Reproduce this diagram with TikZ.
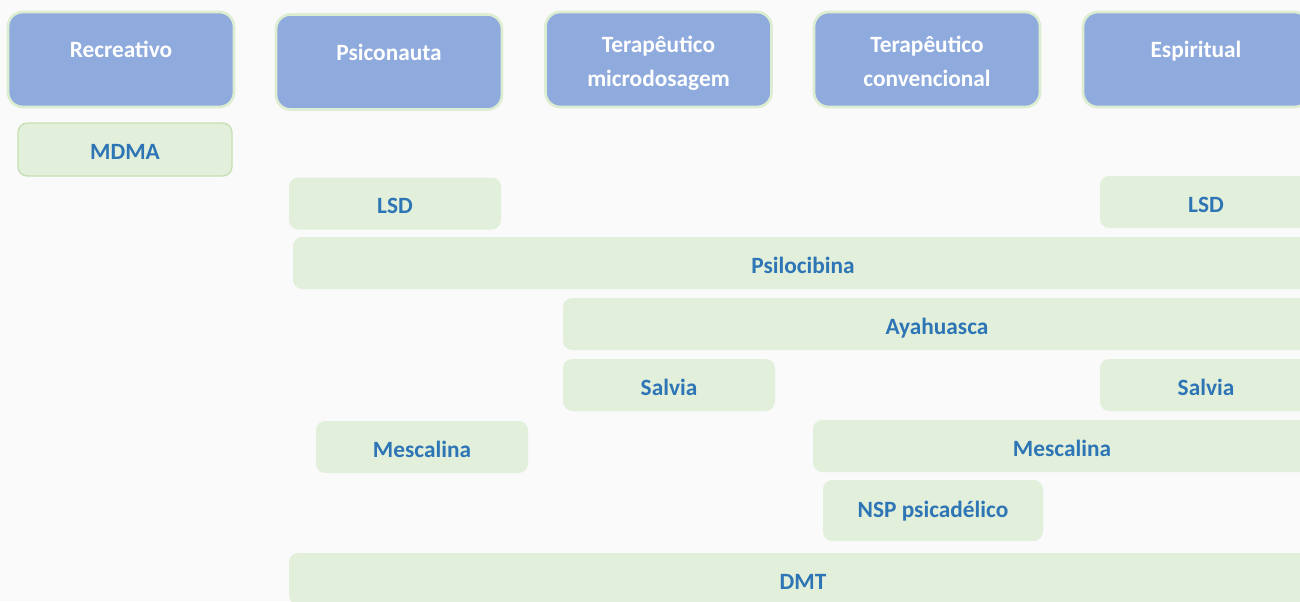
\documentclass[tikz,border=0pt]{standalone}
\usepackage{fontspec}
\setmainfont{Carlito}
\definecolor{headblue}{HTML}{8FAADC}
\definecolor{headrim}{HTML}{DDEDD2}
\definecolor{druggreen}{HTML}{E2EFDA}
\definecolor{drugrim}{HTML}{C6E0B4}
\definecolor{drugtext}{HTML}{2E75B6}
\definecolor{paper}{HTML}{FAFAFA}
\begin{document}
\begin{tikzpicture}[
        x=0.75pt, y=-0.75pt,
        headnode/.style={rectangle, rounded corners=11pt, fill=headblue, draw=headrim, line width=2pt,
            minimum width=169.5pt, minimum height=71.25pt, text=white, align=center,
            font=\fontsize{17.5}{25.5}\selectfont\bfseries},
        headone/.style={headnode, text height=12pt, text depth=15pt},
        drugnode/.style={rectangle, rounded corners=7pt, fill=druggreen, text=drugtext,
            minimum width=159pt, minimum height=39pt, text height=16pt, text depth=1pt,
            font=\fontsize{17.5}{21}\selectfont\bfseries},
        ]

        % Page
        \useasboundingbox (0,0) rectangle (1300,601);
        \clip (0,0) rectangle (1300,601);
        \fill[paper] (0,0) rectangle (1300,601);

        % Headers
        \node[headone] (recr) at (121,59.5) {Recreativo};
        \node[headone] (psic) at (389,62) {Psiconauta};
        \node[headnode] (micro) at (658.5,59.5) {\rule{0pt}{18.5pt}Terapêutico\\microdosagem\rule[-4pt]{0pt}{1pt}};
        \node[headnode] (conv) at (927,59.5) {\rule{0pt}{18.5pt}Terapêutico\\convencional\rule[-4pt]{0pt}{1pt}};
        \node[headone] (espi) at (1196,59.5) {Espiritual};

        % Substances
        \node[drugnode, draw=drugrim, line width=1pt, minimum width=160.5pt, minimum height=39.75pt] (mdma) at (125,149.5) {MDMA};
        \node[drugnode] (lsda) at (395,203.5) {LSD};
        \node[drugnode] (lsdb) at (1206,202) {LSD};
        \node[drugnode, minimum width=765pt] (psilo) at (803,263) {Psilocibina};
        \node[drugnode, minimum width=561pt] (aya) at (937,324) {Ayahuasca};
        \node[drugnode] (salva) at (669,385) {Salvia};
        \node[drugnode] (salvb) at (1206,385) {Salvia};
        \node[drugnode] (mesca) at (422,447) {Mescalina};
        \node[drugnode, minimum width=373.5pt] (mescb) at (1062,446) {Mescalina};
        \node[drugnode, minimum width=165pt, minimum height=45.75pt, text height=11.5pt] (nsp) at (933,510.5) {NSP psicadélico};
        \node[drugnode, minimum width=771pt] (dmt) at (803,579) {DMT};

    \end{tikzpicture}
\end{document}
